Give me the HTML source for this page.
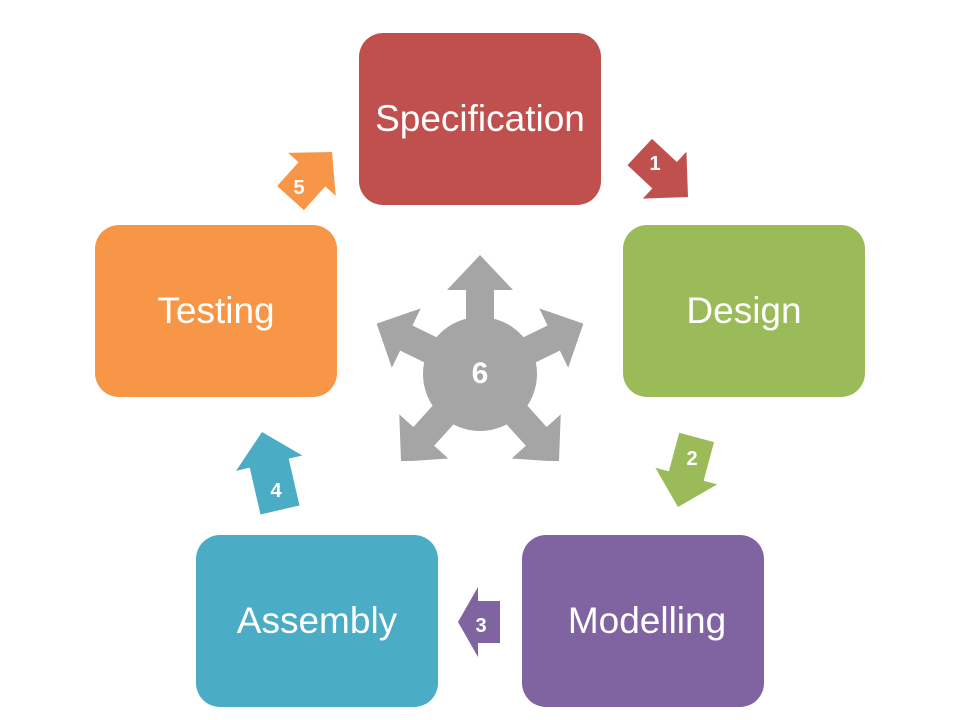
<!DOCTYPE html>
<html><head><meta charset="utf-8"><style>
html,body{margin:0;padding:0;background:#fff;}
svg{display:block;}
text{font-family:"Liberation Sans",sans-serif;fill:#fff;}
</style></head><body>
<svg width="960" height="720" viewBox="0 0 960 720" xmlns="http://www.w3.org/2000/svg">
<rect x="359" y="33" width="242" height="172" rx="24" fill="#C0504D"/>
<rect x="623" y="225" width="242" height="172" rx="24" fill="#9BBB59"/>
<rect x="522" y="535" width="242" height="172" rx="24" fill="#8064A2"/>
<rect x="196" y="535" width="242" height="172" rx="24" fill="#4BACC6"/>
<rect x="95" y="225" width="242" height="172" rx="24" fill="#F79646"/>
<g font-size="37" text-anchor="middle">
<text x="480" y="131">Specification</text>
<text x="744" y="323">Design</text>
<text x="647" y="633">Modelling</text>
<text x="317" y="633">Assembly</text>
<text x="216" y="323">Testing</text>
</g>
<polygon transform="translate(688,197) rotate(43)" points="0,0 -32,-32 -32,-18 -66,-18 -66,18 -32,18 -32,32" fill="#C0504D"/>
<polygon transform="translate(678,507) rotate(105)" points="0,0 -32,-32 -32,-18 -72,-18 -72,18 -32,18 -32,32" fill="#9BBB59"/>
<polygon transform="translate(458,622) rotate(180)" points="0,0 -20,-35 -20,-21 -42,-21 -42,21 -20,21 -20,35" fill="#8064A2"/>
<polygon transform="translate(262,432) rotate(-103)" points="0,0 -32,-34 -32,-20 -80,-20 -80,20 -32,20 -32,34" fill="#4BACC6"/>
<polygon transform="translate(332,152) rotate(-48)" points="0,0 -30,-32 -30,-18 -62,-18 -62,18 -30,18 -30,32" fill="#F79646"/>
<g font-size="20" font-weight="bold" text-anchor="middle">
<text x="655" y="170">1</text>
<text x="692" y="465">2</text>
<text x="481" y="632">3</text>
<text x="276" y="497">4</text>
<text x="299" y="194">5</text>
</g>
<g fill="#A5A5A5" transform="translate(480,374)">
<circle r="57"/>
<polygon transform="rotate(-90)" points="119,0 84,-33 84,-14 0,-14 0,14 84,14 84,33"/>
<polygon transform="rotate(-26)" points="115,0 82,-33 82,-14 0,-14 0,14 82,14 82,33"/>
<polygon transform="rotate(206)" points="115,0 82,-33 82,-14 0,-14 0,14 82,14 82,33"/>
<polygon transform="rotate(48)" points="118,0 84,-33 84,-14 0,-14 0,14 84,14 84,33"/>
<polygon transform="rotate(132)" points="118,0 84,-33 84,-14 0,-14 0,14 84,14 84,33"/>
</g>
<rect x="380" y="461" width="200" height="20" fill="#fff"/>
<text x="480" y="383" font-size="30" font-weight="bold" text-anchor="middle">6</text>
</svg>
</body></html>
